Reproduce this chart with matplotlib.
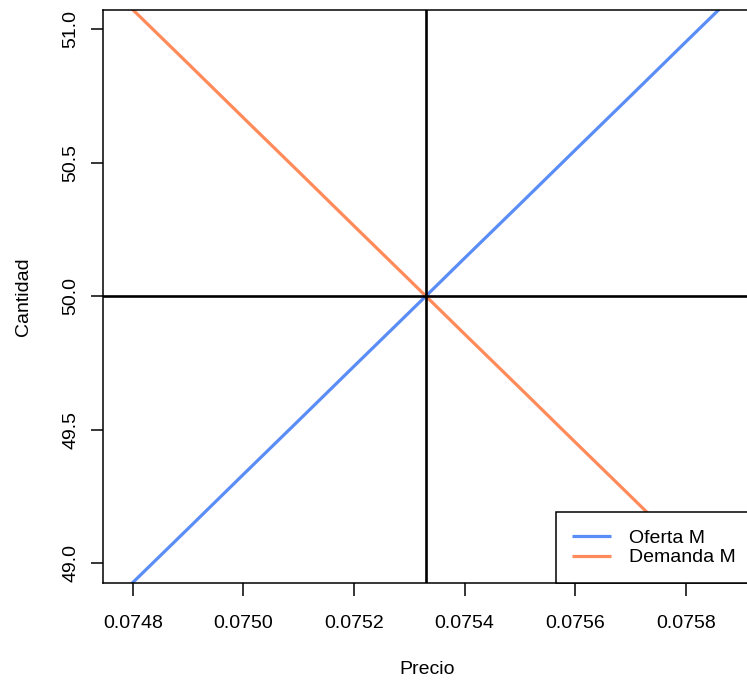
import matplotlib
matplotlib.use("Agg")
import matplotlib.pyplot as plt

# valores
precio = [0.0747, 0.0748, 0.0749, 0.0750, 0.0751, 0.0752, 0.0753,
          0.0754, 0.0755, 0.0756, 0.0757, 0.0758, 0.0759, 0.0760]
oferta = [48.724, 48.927, 49.129, 49.332, 49.534, 49.737, 49.939,
          50.142, 50.344, 50.547, 50.749, 50.952, 51.154, 51.357]
demanda = [51.276, 51.073, 50.871, 50.668, 50.466, 50.263, 50.061,
           49.858, 49.656, 49.453, 49.251, 49.048, 48.846, 48.643]
p_eq = 0.07533
q_eq = 50.0
xticks = [0.0748, 0.0750, 0.0752, 0.0754, 0.0756, 0.0758]
yticks = [49.0, 49.5, 50.0, 50.5, 51.0]

plt.rcParams["font.family"] = ["Liberation Sans", "DejaVu Sans"]

W, H = 747, 685
fig = plt.figure(figsize=(W / 100, H / 100), dpi=100)
ax = fig.add_axes([103 / W, (H - 583) / H, (752 - 103) / W, (583 - 10) / H])

ax.plot(precio, oferta, color="#5B8DF6", linewidth=2.3, label="Oferta M", solid_capstyle="butt")
ax.plot(precio, demanda, color="#FF8A5A", linewidth=2.3, label="Demanda M", solid_capstyle="butt")
ax.axvline(p_eq, color="black", linewidth=1.9)
ax.axhline(q_eq, color="black", linewidth=1.9)

ax.set_xlim(0.074746, 0.075920)
ax.set_ylim(48.925, 51.072)
ax.set_xticks(xticks)
ax.set_xticklabels([f"{v:.4f}" for v in xticks])
ax.set_yticks(yticks)
ax.set_yticklabels([f"{v:.1f}" for v in yticks], rotation=90, va="center")
ax.tick_params(axis="both", length=9, width=1.1, labelsize=14, colors="black")
ax.tick_params(axis="x", pad=14)
ax.tick_params(axis="y", pad=8)
for s in ax.spines.values():
    s.set_linewidth(1.1)

ax.set_xlabel("Precio", fontsize=14, labelpad=21)
ax.set_ylabel("Cantidad", fontsize=14, labelpad=22)

leg = ax.legend(loc="lower right", borderaxespad=0, fancybox=False, framealpha=1,
                edgecolor="black", fontsize=14, handlelength=2.0, handletextpad=0.9,
                labelspacing=0.12, borderpad=0.85)
leg.get_frame().set_linewidth(1.1)

fig.savefig("out.png", dpi=100)
